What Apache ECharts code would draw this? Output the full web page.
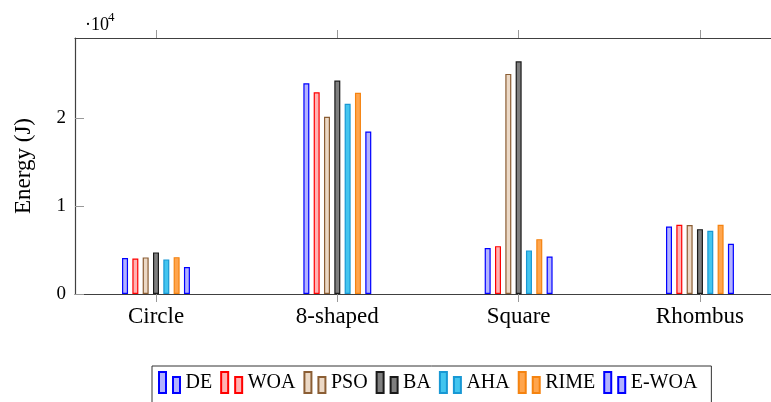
<!DOCTYPE html>
<html>
<head>
<meta charset="utf-8">
<script src="https://cdn.jsdelivr.net/npm/echarts@6/dist/echarts.min.js"></script>
<style>
  html, body { margin: 0; padding: 0; background: #fff; }
  #chart { width: 771px; height: 402px; }
</style>
</head>
<body>
<div id="chart"></div>
<script>
const categories = ["Circle", "8-shaped", "Square", "Rhombus"];
const methods = ["DE", "WOA", "PSO", "BA", "AHA", "RIME", "E-WOA"];
const yTicks = [0, 10000, 20000];

// energy values per method, in the order of categories
const DE = [4090, 24010, 5250, 7690];
const WOA = [4050, 22990, 5450, 7880];
const PSO = [4170, 20190, 25080, 7860];
const BA = [4740, 24320, 26510, 7390];
const AHA = [3940, 21670, 4970, 7200];
const RIME = [4200, 22920, 6250, 7880];
const EWOA = [3070, 18520, 4280, 5720];

const values = [DE, WOA, PSO, BA, AHA, RIME, EWOA];
const fills = ["#b3b3ff", "#ffb3b3", "#ecd9c6", "#7f7f7f", "#43c5ef", "#ffa54d", "#b3b3ff"];
const strokes = ["#0000ff", "#ff0000", "#8b5e34", "#1a1a1a", "#1898d4", "#f58310", "#0000ff"];

const font = "Liberation Serif";
const tickIdx = categories.map((_, i) => i);

const chart = echarts.init(document.getElementById("chart"));

chart.setOption({
  animation: false,
  grid: { left: 75, top: 38, width: 695.5, bottom: 108, outerBoundsMode: "none" },
  xAxis: [
    {
      type: "value",
      position: "bottom",
      min: -0.4467,
      max: 3.389,
      splitLine: { show: false },
      axisLine: { onZero: false, lineStyle: { color: "#404040", width: 1.2 } },
      axisTick: { customValues: tickIdx, length: 8, lineStyle: { color: "#999" } },
      axisLabel: {
        customValues: tickIdx,
        formatter: (v) => categories[Math.round(v)],
        fontFamily: font,
        fontSize: 23,
        color: "#000",
        margin: 11,
      },
    },
    {
      type: "value",
      position: "top",
      min: -0.4467,
      max: 3.389,
      splitLine: { show: false },
      axisLine: { show: true, onZero: false, lineStyle: { color: "#404040", width: 1.2 } },
      axisTick: { customValues: tickIdx, length: 8, lineStyle: { color: "#999" } },
      axisLabel: { show: false },
    },
  ],
  yAxis: {
    type: "value",
    min: 0,
    max: 29170,
    interval: 10000,
    name: "Energy (J)",
    nameLocation: "middle",
    nameGap: 40,
    nameMoveOverlap: false,
    nameTextStyle: { fontFamily: font, fontSize: 23, color: "#000" },
    splitLine: { show: false },
    axisLine: { show: true, onZero: false, lineStyle: { color: "#404040", width: 1.2 } },
    axisTick: { inside: true, length: 9, customValues: yTicks, lineStyle: { color: "#999" } },
    axisLabel: {
      customValues: yTicks,
      formatter: (v) => String(v / 10000),
      fontFamily: font,
      fontSize: 19,
      color: "#000",
      margin: 9,
    },
  },
  legend: {
    left: 152,
    top: 366,
    orient: "horizontal",
    data: methods,
    icon: "path://M0,0h7v21h-7z M14,5h7v16h-7z",
    itemWidth: 22,
    itemHeight: 21,
    itemGap: 8,
    padding: [5, 14, 14, 6],
    borderColor: "#333",
    borderWidth: 1,
    textStyle: { fontFamily: font, fontSize: 20, color: "#000" },
  },
  graphic: [
    { type: "text", left: 85, top: 16, style: { text: "·10", font: "18px 'Liberation Serif'", fill: "#000" } },
    { type: "text", left: 108, top: 11, style: { text: "4", font: "13px 'Liberation Serif'", fill: "#000" } },
  ],
  series: methods.map((m, k) => ({
    name: m,
    type: "bar",
    barWidth: 6,
    barGap: "72%",
    data: values[k].map((v, i) => [i, v]),
    itemStyle: { color: fills[k], borderColor: strokes[k], borderWidth: 1.2 },
  })),
});
</script>
</body>
</html>
